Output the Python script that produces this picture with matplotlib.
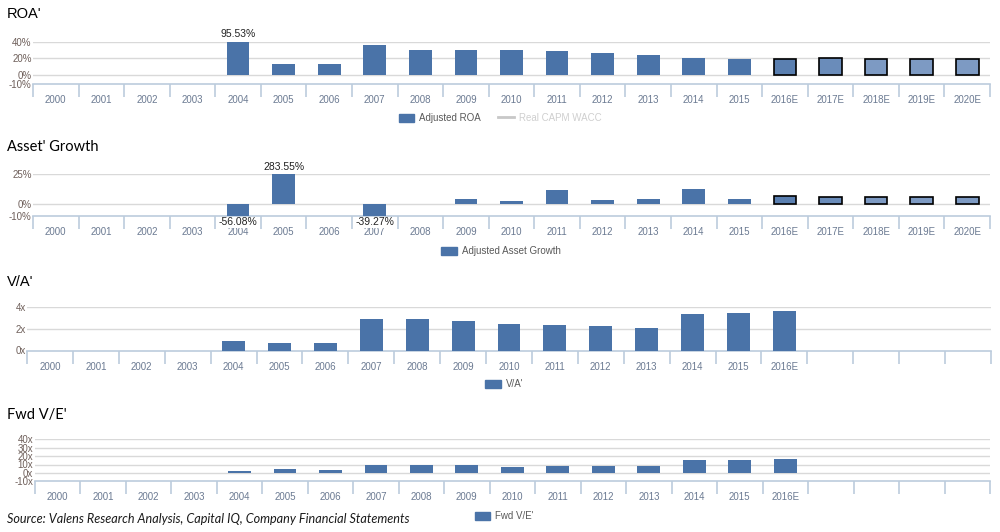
import matplotlib
matplotlib.use("Agg")
import matplotlib.pyplot as plt
import numpy as np
from matplotlib.lines import Line2D
from matplotlib.patches import Patch

years = ["2000", "2001", "2002", "2003", "2004", "2005", "2006", "2007", "2008", "2009",
         "2010", "2011", "2012", "2013", "2014", "2015", "2016E", "2017E", "2018E", "2019E", "2020E"]
years_short = ["2000", "2001", "2002", "2003", "2004", "2005", "2006", "2007", "2008", "2009",
               "2010", "2011", "2012", "2013", "2014", "2015", "2016E", "", "", "", ""]

roa = [None, None, None, None, 95.53, 13.0, 13.0, 36.0, 30.0, 30.0,
       30.0, 29.0, 26.5, 24.0, 20.6, 19.4, 19.0, 20.0, 19.0, 19.0, 19.0]
asset_growth = [None, None, None, None, -56.08, 283.55, None, -39.27, None, 4.2,
                2.5, 11.8, 3.4, 4.2, 12.6, 4.2, 6.4, 5.6, 5.6, 5.6, 5.6]
va = [None, None, None, None, 0.86, 0.67, 0.67, 2.88, 2.88, 2.69,
      2.5, 2.4, 2.3, 2.1, 3.36, 3.46, 3.65, None, None, None, None]
fwd_ve = [None, None, None, None, 2.0, 5.1, 3.1, 9.0, 9.0, 9.0,
          7.5, 8.6, 8.6, 8.6, 15.7, 15.7, 16.9, None, None, None, None]

roa_labels = {4: "95.53%"}
ag_labels = {4: "-56.08%", 5: "283.55%", 7: "-39.27%"}

W, H = 1000, 532
fig = plt.figure(figsize=(10, 5.32), dpi=100)

BASE = "#4A73A8"
EST = {16: "#5A7FB0", 17: "#6A8CBA", 18: "#7D9AC3", 19: "#7D9AC3", 20: "#7D9AC3"}
AXIS_C = "#BCCCDD"
GRID_C = "#D9D9D9"
XLAB_C = "#6B7A92"
YLAB_C = "#6E5F5A"
LEG_C = "#595959"
TICK_FONT = "Liberation Sans"


def make_ax(x0, x1, ytop, ybot, ylim, yticks, yfmt, labels):
    ax = fig.add_axes([x0 / W, 1 - ybot / H, (x1 - x0) / W, (ybot - ytop) / H])
    ax.set_xlim(-0.5, len(labels) - 0.5)
    ax.set_ylim(*ylim)
    for s in ["top", "right", "left"]:
        ax.spines[s].set_visible(False)
    ax.spines["bottom"].set_color(AXIS_C)
    ax.spines["bottom"].set_linewidth(1.2)
    ax.set_yticks(yticks)
    ax.set_yticklabels([yfmt(v) for v in yticks], fontsize=7, color=YLAB_C, family=TICK_FONT)
    ax.tick_params(axis="y", length=0, pad=1)
    ax.set_xticks(np.arange(len(labels)))
    ax.set_xticklabels(labels, fontsize=7, color=XLAB_C, family=TICK_FONT)
    ax.set_xticks(np.arange(len(labels) + 1) - 0.5, minor=True)
    ax.tick_params(axis="x", which="major", length=0, pad=8)
    ax.tick_params(axis="x", which="minor", length=9, width=1.2, color=AXIS_C, direction="out")
    for v in yticks:
        if v != ylim[0]:
            ax.axhline(v, color=GRID_C, lw=1, zorder=0)
    return ax


def draw_bars(ax, vals, est_style=True):
    for i, v in enumerate(vals):
        if v is None:
            continue
        if est_style and i in EST:
            ax.bar(i, v, width=0.5, color=EST[i], edgecolor="black", linewidth=1.2, zorder=3)
        else:
            ax.bar(i, v, width=0.5, color=BASE, zorder=3)


def title(y, text, font):
    fig.text(7 / W, 1 - y / H, text, fontsize=10.5, color="black", family=font, va="center", ha="left")


# Panel 1: ROA'
ax1 = make_ax(33, 990, 41.7, 83.5, (-10, 40), [-10, 0, 20, 40], lambda v: f"{v}%", years)
draw_bars(ax1, roa)
for i, t in roa_labels.items():
    ax1.annotate(t, (i, 40), xytext=(0, 2), textcoords="offset points", ha="center", va="bottom",
                 fontsize=7.5, color="#222222", family=TICK_FONT, annotation_clip=False)
title(14, "ROA'", "Liberation Sans")
ax1.legend(handles=[Patch(color=BASE, label="Adjusted ROA"),
                    Line2D([], [], color="#C8C8C8", lw=2, label="Real CAPM WACC")],
           loc="center", bbox_to_anchor=(500 / W, 1 - 118 / H), bbox_transform=fig.transFigure,
           ncol=2, frameon=False, handlelength=1.6, handleheight=0.9, columnspacing=1.8,
           handletextpad=0.5, prop={"family": TICK_FONT, "size": 7})
lt = ax1.get_legend().get_texts()
lt[0].set_color(LEG_C)
lt[1].set_color("#CFCFCF")

# Panel 2: Asset' Growth
ax2 = make_ax(33, 990, 174.3, 216, (-10, 25), [-10, 0, 25], lambda v: f"{v}%", years)
draw_bars(ax2, asset_growth)
for i, t in ag_labels.items():
    v = asset_growth[i]
    if v > 0:
        ax2.annotate(t, (i, 25), xytext=(0, 2), textcoords="offset points", ha="center", va="bottom",
                     fontsize=7.5, color="#222222", family=TICK_FONT, annotation_clip=False)
    else:
        ax2.annotate(t, (i, -10), xytext=(0, -1), textcoords="offset points", ha="center", va="top",
                     fontsize=7.5, color="#222222", family=TICK_FONT, annotation_clip=False, zorder=5,
                     bbox=dict(facecolor="white", edgecolor="none", pad=0.3))
title(147, "Asset' Growth", "Lato")
ax2.legend(handles=[Patch(color=BASE, label="Adjusted Asset Growth")],
           loc="center", bbox_to_anchor=(501 / W, 1 - 251 / H), bbox_transform=fig.transFigure,
           frameon=False, handlelength=1.6, handleheight=0.9, handletextpad=0.5,
           prop={"family": TICK_FONT, "size": 7}, labelcolor=LEG_C)

# Panel 3: V/A'
ax3 = make_ax(27, 991, 307.3, 350.5, (0, 4), [0, 2, 4], lambda v: f"{v}x", years_short)
draw_bars(ax3, va, est_style=False)
title(282, "V/A'", "Liberation Sans")
ax3.legend(handles=[Patch(color=BASE, label="V/A'")],
           loc="center", bbox_to_anchor=(504 / W, 1 - 384 / H), bbox_transform=fig.transFigure,
           frameon=False, handlelength=1.6, handleheight=0.9, handletextpad=0.5,
           prop={"family": TICK_FONT, "size": 7}, labelcolor=LEG_C)

# Panel 4: Fwd V/E'
ax4 = make_ax(34.7, 990, 439.3, 481.3, (-10, 40), [-10, 0, 10, 20, 30, 40], lambda v: f"{v}x", years_short)
draw_bars(ax4, fwd_ve, est_style=False)
title(415, "Fwd V/E'", "Lato")
ax4.legend(handles=[Patch(color=BASE, label="Fwd V/E'")],
           loc="center", bbox_to_anchor=(504 / W, 1 - 516 / H), bbox_transform=fig.transFigure,
           frameon=False, handlelength=1.6, handleheight=0.9, handletextpad=0.5,
           prop={"family": TICK_FONT, "size": 7}, labelcolor=LEG_C)

fig.text(7 / W, 1 - 519 / H, "Source: Valens Research Analysis, Capital IQ, Company Financial Statements",
         fontsize=9.1, style="italic", family="Lato", color="#1a1a1a", va="center", ha="left")

fig.savefig("out.png", dpi=100)
